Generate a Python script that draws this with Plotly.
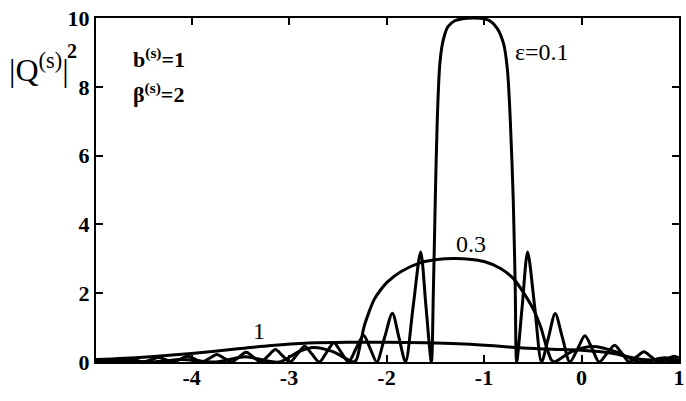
import plotly.graph_objects as go

# ---- data ----
x_eps01 = [-4.98, -4.87, -4.79, -4.715, -4.64, -4.565, -4.49, -4.415, -4.34, -4.265, -4.19,
           -4.115, -4.04, -3.965, -3.89, -3.815, -3.74, -3.665, -3.59, -3.515, -3.44, -3.365,
           -3.29, -3.215, -3.14, -3.065, -2.99, -2.915, -2.84, -2.765, -2.69, -2.615, -2.54,
           -2.465, -2.39, -2.3125, -2.235, -2.1675, -2.10, -2.02, -1.94, -1.8725, -1.805,
           -1.7275, -1.65, -1.595, -1.54, -1.52, -1.50, -1.48, -1.455, -1.43, -1.40, -1.37,
           -1.30, -1.22, -1.10, -1.00, -0.93, -0.865, -0.80, -0.76, -0.73, -0.70, -0.68,
           -0.665, -0.609, -0.553, -0.48, -0.41, -0.34, -0.27, -0.195, -0.12, -0.04, 0.035,
           0.11, 0.18, 0.26, 0.34, 0.415, 0.49, 0.565, 0.64, 0.715, 0.79, 0.87, 0.95, 1.0]
y_eps01 = [0.06, 0.03, 0.0, 0.05, 0.10, 0.05, 0.0, 0.065, 0.13, 0.065, 0.0,
           0.085, 0.17, 0.085, 0.0, 0.11, 0.22, 0.11, 0.0, 0.14, 0.28, 0.14,
           0.0, 0.18, 0.36, 0.18, 0.0, 0.23, 0.46, 0.23, 0.0, 0.28, 0.56,
           0.28, 0.0, 0.39, 0.78, 0.39, 0.0, 0.71, 1.42, 0.71, 0.0,
           1.6, 3.2, 1.6, 0.0, 2.0, 4.7, 7.0, 8.6, 9.2, 9.55, 9.75,
           9.92, 9.98, 10.0, 9.98, 9.9, 9.7, 9.26, 8.5, 7.0, 4.7, 2.2,
           0.0, 1.6, 3.2, 1.6, 0.0, 0.7, 1.41, 0.7, 0.0, 0.38, 0.76,
           0.38, 0.0, 0.245, 0.49, 0.245, 0.0, 0.15, 0.30, 0.15, 0.0, 0.085, 0.17, 0.12]

x_eps03 = [-4.98, -4.75, -4.4, -4.1, -3.75, -3.45, -3.1, -2.9, -2.75, -2.55, -2.34, -2.31,
           -2.27, -2.23, -2.18, -2.13, -2.06, -1.99, -1.85, -1.65, -1.48, -1.31, -1.15,
           -1.0, -0.83, -0.70, -0.60, -0.49, -0.42, -0.36, -0.31, -0.28,
           -0.1, 0.12, 0.35, 0.6, 0.85, 1.0]
y_eps03 = [0.02, 0.04, 0.0, 0.07, 0.0, 0.15, 0.0, 0.3, 0.42, 0.3, 0.0, 0.06,
           0.5, 1.03, 1.45, 1.80, 2.10, 2.33, 2.63, 2.89, 2.98, 3.01, 2.99,
           2.92, 2.72, 2.43, 2.04, 1.51, 1.03, 0.45, 0.06, 0.0,
           0.3, 0.45, 0.3, 0.0, 0.12, 0.05]

x_eps1 = [-4.98, -4.5, -4.0, -3.5, -3.18, -2.8, -2.4, -2.0, -1.6, -1.2, -0.9, -0.6,
          -0.3, 0.0, 0.3, 0.5, 0.6, 0.8, 1.0]
y_eps1 = [0.07, 0.14, 0.25, 0.39, 0.48, 0.55, 0.575, 0.575, 0.56, 0.52, 0.47, 0.41,
          0.37, 0.34, 0.26, 0.14, 0.08, 0.05, 0.04]

x_ticks = [-4, -3, -2, -1, 0, 1]
y_ticks = [0, 2, 4, 6, 8, 10]

SERIF = "Liberation Serif"

fig = go.Figure()
for xs, ys in [(x_eps1, y_eps1), (x_eps03, y_eps03), (x_eps01, y_eps01)]:
    fig.add_trace(go.Scatter(x=xs, y=ys, mode="lines",
                             line=dict(color="black", width=3, shape="spline", smoothing=0.8),
                             showlegend=False, hoverinfo="skip"))

axis_common = dict(showline=True, linecolor="black", linewidth=2, mirror="ticks",
                   ticks="inside", ticklen=7, tickwidth=1.5, tickcolor="black",
                   showgrid=False, zeroline=False, ticklabeloverflow="allow",
                   tickfont=dict(family=SERIF, size=22, color="black"))

fig.update_xaxes(range=[-4.98, 1.0], tickvals=x_ticks, ticklabelstandoff=-5,
                 ticktext=["<b>%d</b>" % v for v in x_ticks], **axis_common)
fig.update_yaxes(range=[0, 10], tickvals=y_ticks,
                 ticktext=["<b>%d</b>" % v for v in y_ticks], **axis_common)

PX_W = 589.0   # plot-area width in px
PX_H = 344.0   # plot-area height in px


def px(xp, yp):
    return (xp - 96) / PX_W, (362 - yp) / PX_H


ann = []
ax_, ay_ = px(6, 68)
ann.append(dict(xref="paper", yref="paper", x=ax_, y=ay_, xanchor="left", yanchor="middle",
                text="|Q<sup>(s)</sup>|", showarrow=False,
                font=dict(family=SERIF, size=32, color="black")))
ax_, ay_ = px(72, 51)
ann.append(dict(xref="paper", yref="paper", x=ax_, y=ay_, xanchor="center", yanchor="middle",
                text="<b>2</b>", showarrow=False,
                font=dict(family=SERIF, size=20, color="black")))
ax_, ay_ = px(131, 58)
ann.append(dict(xref="paper", yref="paper", x=ax_, y=ay_, xanchor="left", yanchor="middle",
                text="<b>b<sup>(s)</sup>=1</b>", showarrow=False,
                font=dict(family=SERIF, size=22, color="black")))
ax_, ay_ = px(131, 93)
ann.append(dict(xref="paper", yref="paper", x=ax_, y=ay_, xanchor="left", yanchor="middle",
                text="<b>β<sup>(s)</sup>=2</b>", showarrow=False,
                font=dict(family=SERIF, size=22, color="black")))
ann.append(dict(x=-0.70, y=9.0, xanchor="left", yanchor="middle", text="ε=0.1",
                showarrow=False, font=dict(family=SERIF, size=24, color="black")))
ann.append(dict(x=-1.13, y=3.43, xanchor="center", yanchor="middle", text="0.3",
                showarrow=False, font=dict(family=SERIF, size=24, color="black")))
ann.append(dict(x=-3.31, y=0.89, xanchor="center", yanchor="middle", text="1",
                showarrow=False, font=dict(family=SERIF, size=24, color="black")))
fig.update_layout(annotations=ann)

fig.update_layout(width=686, height=401, margin=dict(l=96, r=1, t=18, b=39),
                  paper_bgcolor="white", plot_bgcolor="white")

fig.write_html("out.html", config={"displayModeBar": False},
               post_script="document.body.style.margin='0px';"
                           "document.documentElement.style.overflow='hidden';")
